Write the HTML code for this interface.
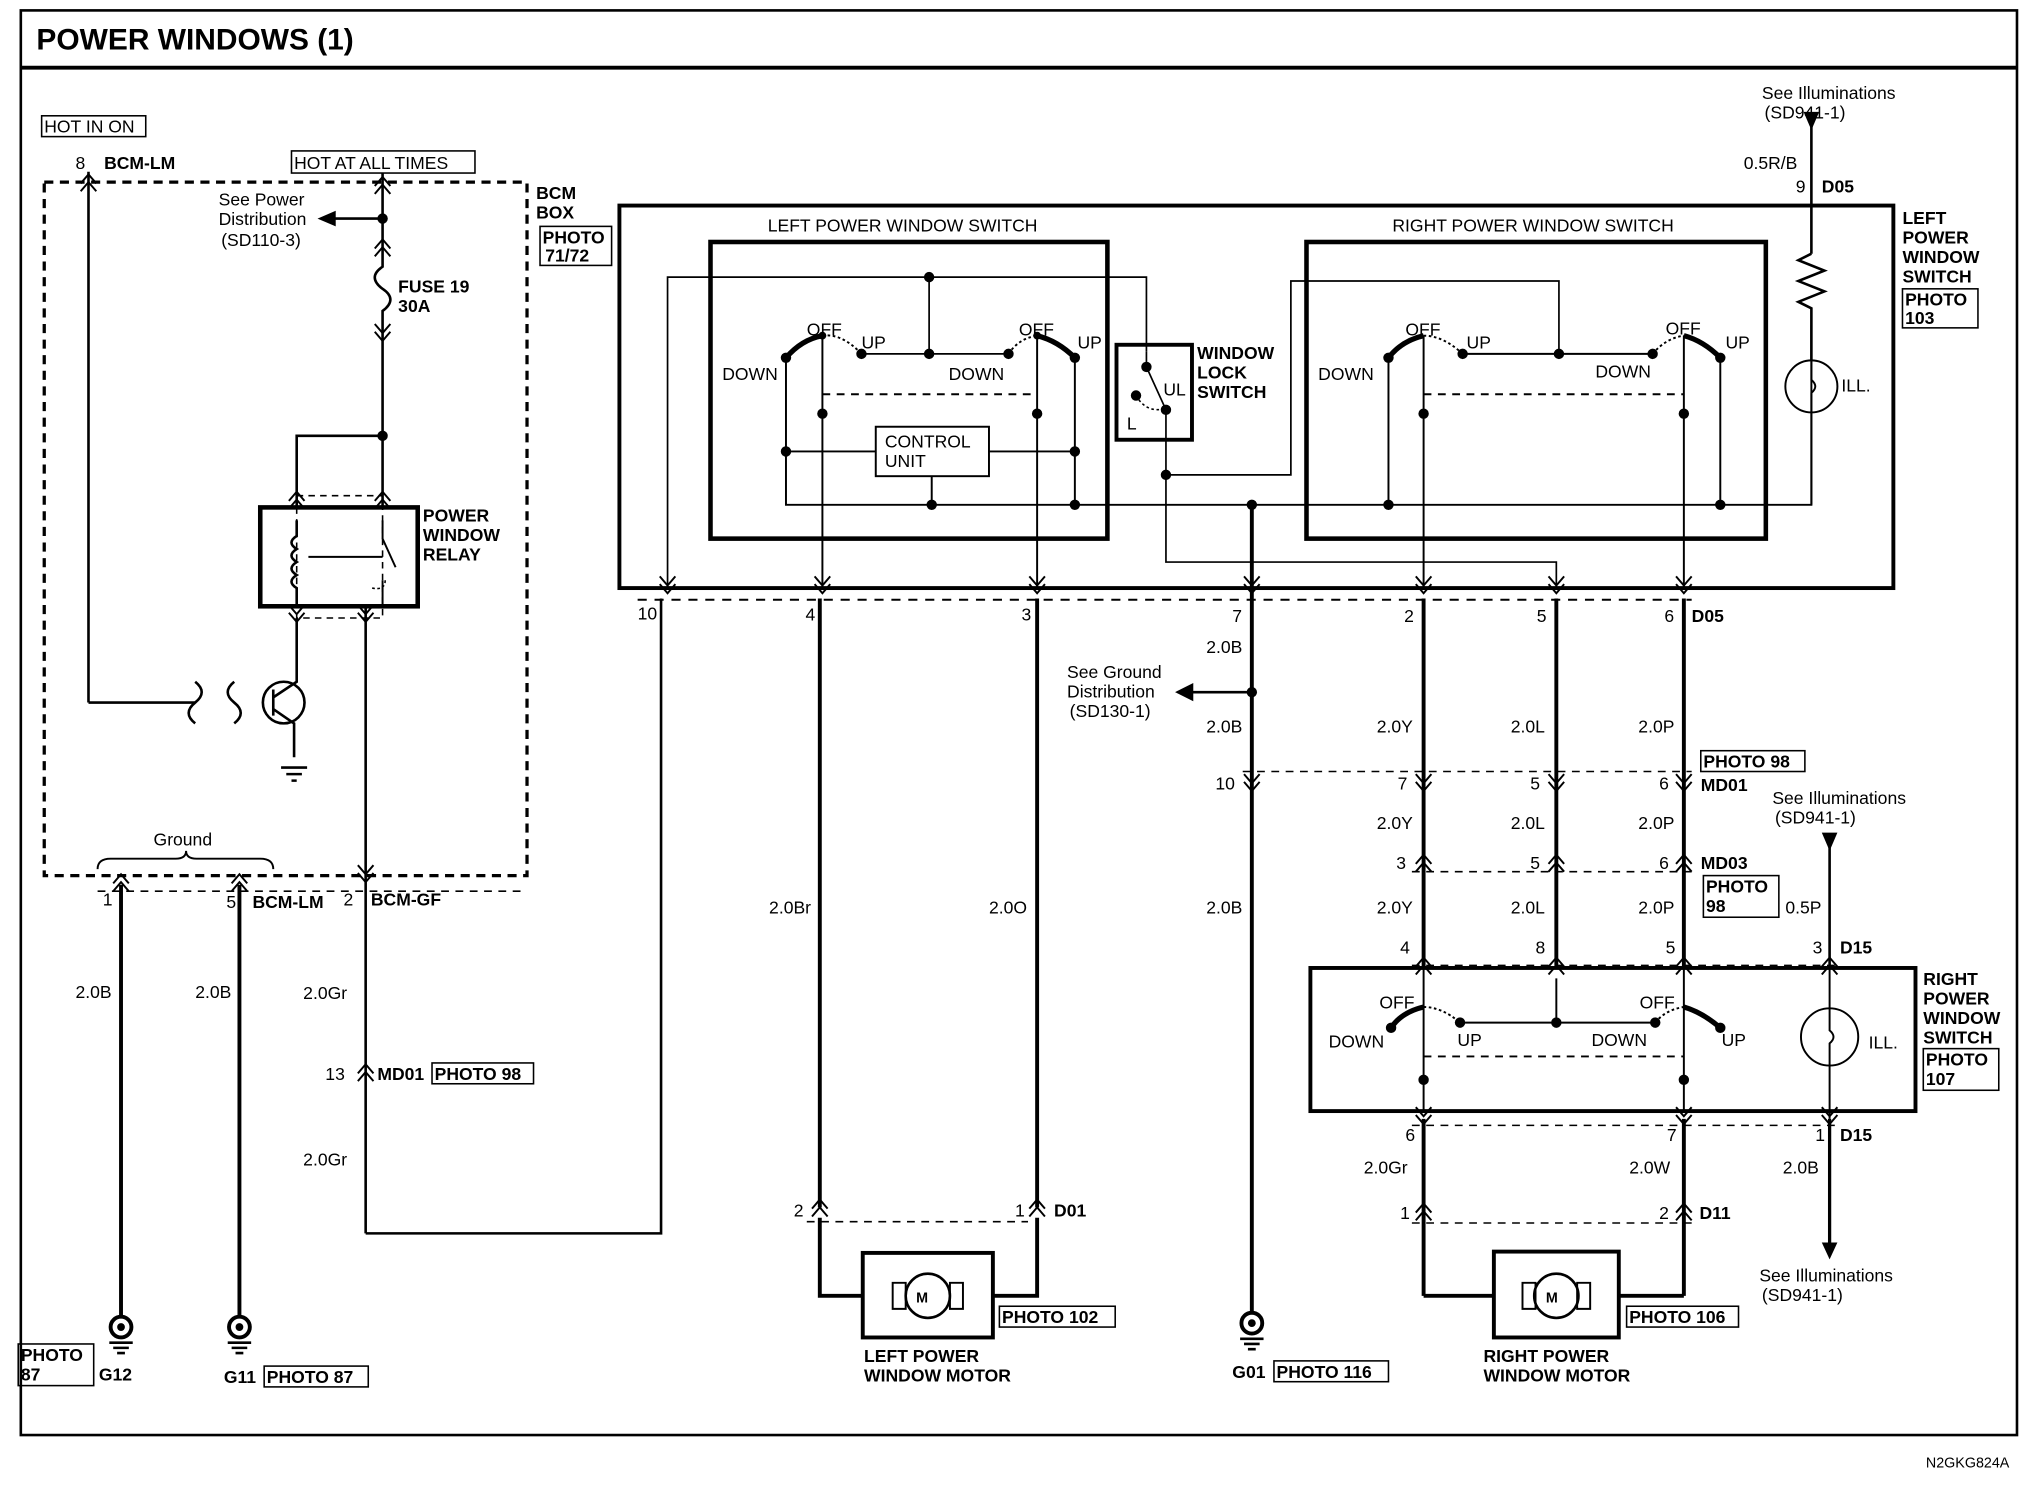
<!DOCTYPE html>
<html><head><meta charset="utf-8"><style>
html,body{margin:0;padding:0;background:#fff;}
svg{display:block}
text{font-family:"Liberation Sans",Arial,sans-serif;font-size:13.5px;fill:#000}
.b{font-weight:bold}
</style></head><body>
<svg width="2030" height="1504" viewBox="0 0 1560 1156" preserveAspectRatio="none" xmlns="http://www.w3.org/2000/svg">
<defs>
<g id="cu"><path d="M-6,7 L0,0 L6,7 M-6,13 L0,6 L6,13" fill="none" stroke="#000" stroke-width="1.5"/></g>
<g id="cd"><path d="M-6,-7 L0,0 L6,-7 M-6,-13 L0,-6 L6,-13" fill="none" stroke="#000" stroke-width="1.5"/></g>
<g id="gnd"><circle cx="0" cy="0" r="8" fill="none" stroke="#000" stroke-width="3"/><circle r="3"/><path d="M-9,12 H9 M-6,16 H6 M-3,20 H3" stroke="#000" stroke-width="2"/></g>
</defs>
<g fill="none" stroke="#000">
<!-- frame -->
<rect x="16" y="8" width="1534" height="1095" stroke-width="2"/>
<line x1="16" y1="52" x2="1550" y2="52" stroke-width="3"/>
<!-- BCM dashed box -->
<rect x="34" y="140" width="371" height="533" stroke-width="2.5" stroke-dasharray="7,5"/>
<!-- HOT IN ON -->
<rect x="32" y="89" width="80" height="16" stroke-width="1.2"/>
<rect x="224" y="116" width="141" height="17" stroke-width="1.2"/>
<line x1="68" y1="132" x2="68" y2="540" stroke-width="2"/>
<line x1="68" y1="540" x2="150" y2="540" stroke-width="2"/>
<path d="M150,524 q10,8 0,16 q-10,8 0,16 M180,524 q-10,8 0,16 q10,8 0,16" stroke-width="2"/>
<circle cx="218" cy="540" r="16" stroke-width="2"/>
<path d="M210,530 V550 M210,536 L228,524 V475 M210,545 L226,556 V582" stroke-width="2"/>
<path d="M216,590 H236 M220,595 H232 M224,600 H228" stroke-width="2"/>
<!-- fuse line -->
<line x1="294" y1="133" x2="294" y2="190" stroke-width="2"/>
<line x1="252" y1="168" x2="294" y2="168" stroke-width="2"/>
<path d="M294,190 V205 q-12,8 0,17 q12,8 0,17 V255" stroke-width="2"/>
<line x1="294" y1="255" x2="294" y2="390" stroke-width="2"/>
<path d="M228,390 V335 H294" stroke-width="2"/>
<!-- relay -->
<rect x="200" y="390" width="121" height="76" stroke-width="3.5"/>
<rect x="228" y="381" width="66" height="94" stroke-width="1.2" stroke-dasharray="5,4"/>
<path d="M228,400 V412 q-8,5 0,10 q-8,5 0,10 q-8,5 0,10 q-8,5 0,10 V466" stroke-width="2"/>
<path d="M294,400 V414 L304,436 M294,446 V466 M237,428 H294" stroke-width="1.5"/>
<path d="M296,446 q0,8 -10,6" stroke-width="1.2" stroke-dasharray="2,2"/>
<line x1="281" y1="466" x2="281" y2="948" stroke-width="2"/>
<path d="M281,948 H508 V460" stroke-width="2"/>
<!-- ground brace -->
<path d="M75,668 q0,-8 10,-8 H135 q8,0 8,-6 q0,6 8,6 H200 q10,0 10,8" stroke-width="1.5"/>
<line x1="75" y1="685" x2="400" y2="685" stroke-width="1.2" stroke-dasharray="6,5"/>
<line x1="93" y1="680" x2="93" y2="1012" stroke-width="3"/>
<line x1="184" y1="680" x2="184" y2="1012" stroke-width="3"/>
<!-- big switch box -->
<rect x="476" y="158" width="979" height="294" stroke-width="3"/>
<rect x="546" y="186" width="305" height="228" stroke-width="3.5"/>
<rect x="1004" y="186" width="353" height="228" stroke-width="3.5"/>
<rect x="858" y="265" width="58" height="73" stroke-width="3"/>
<line x1="490" y1="461" x2="1300" y2="461" stroke-width="1.5" stroke-dasharray="7,6"/>
<!-- left switch internal -->
<path d="M513,452 V213 H881 V270" stroke-width="1.3"/>
<path d="M714,213 V272 M662,272 H775" stroke-width="1.3"/>
<path d="M604,275 q12,-14 28,-17 M797,258 q16,4 29,17" stroke-width="4"/>
<path d="M632,258 q15,-2 30,14 M775,272 q8,-12 22,-14" stroke-width="1.5" stroke-dasharray="2,2"/>
<path d="M604,275 V388 H1392 V250 M826,275 V388" stroke-width="1.5"/>
<path d="M632,258 V452 M797,258 V452" stroke-width="1.5"/>
<line x1="632" y1="303" x2="797" y2="303" stroke-width="1.5" stroke-dasharray="6,5"/>
<rect x="673" y="328" width="87" height="38" stroke-width="1.5"/>
<path d="M604,347 H673 M760,347 H826 M716,366 V388" stroke-width="1.5"/>
<!-- lock switch -->
<path d="M881,270 V282 L896,315 V432 H1196 V452" stroke-width="1.3"/>
<path d="M873,304 q8,14 23,10" stroke-width="1.2" stroke-dasharray="2,2"/>
<path d="M896,365 H992 V216 H1198 V272" stroke-width="1.3"/>
<line x1="962" y1="388" x2="962" y2="1010" stroke-width="3"/>
<line x1="905" y1="532" x2="962" y2="532" stroke-width="2"/>
<!-- right switch internal -->
<path d="M1067,275 q10,-13 27,-17 M1294,258 q15,4 28,17" stroke-width="4"/>
<path d="M1094,258 q15,0 30,14 M1270,272 q10,-12 24,-14" stroke-width="1.5" stroke-dasharray="2,2"/>
<path d="M1124,272 H1270 M1067,275 V388 M1322,275 V388" stroke-width="1.5"/>
<path d="M1094,258 V452 M1294,258 V452" stroke-width="1.5"/>
<line x1="1094" y1="303" x2="1294" y2="303" stroke-width="1.5" stroke-dasharray="6,5"/>
<!-- illumination left -->
<line x1="1392" y1="95" x2="1392" y2="195" stroke-width="2"/>
<path d="M1392,195 l-10,5 l20,8 l-20,8 l20,8 l-20,8 l10,5 V277" stroke-width="2"/>
<circle cx="1392" cy="297" r="20" stroke-width="1.5"/>
<path d="M1392,277 V292 q6,5 0,10 V317 V388" stroke-width="1.5"/>
<!-- wires to motor left -->
<line x1="630" y1="460" x2="630" y2="928" stroke-width="3"/>
<line x1="797" y1="460" x2="797" y2="928" stroke-width="3"/>
<line x1="620" y1="939" x2="790" y2="939" stroke-width="1.2" stroke-dasharray="6,5"/>
<path d="M630,936 V996 H663 M797,936 V996 H763" stroke-width="3"/>
<rect x="663" y="963" width="100" height="65" stroke-width="3"/>
<circle cx="713" cy="996" r="17" stroke-width="2"/>
<path d="M686,986 h10 v20 h-10 z M730,986 h10 v20 h-10 z" stroke-width="1.5"/>
<!-- right wires -->
<line x1="1094" y1="460" x2="1094" y2="744" stroke-width="3"/>
<line x1="1196" y1="460" x2="1196" y2="744" stroke-width="3"/>
<line x1="1294" y1="460" x2="1294" y2="744" stroke-width="3"/>
<line x1="955" y1="593" x2="1300" y2="593" stroke-width="1.2" stroke-dasharray="6,5"/>
<line x1="1085" y1="670" x2="1300" y2="670" stroke-width="1.2" stroke-dasharray="6,5"/>
<line x1="1085" y1="742" x2="1410" y2="742" stroke-width="1.2" stroke-dasharray="6,5"/>
<rect x="1007" y="744" width="465" height="110" stroke-width="3"/>
<path d="M1069,790 q8,-12 25,-16 M1294,774 q14,4 28,16" stroke-width="4"/>
<path d="M1094,774 q14,0 28,12 M1272,786 q8,-10 22,-12" stroke-width="1.5" stroke-dasharray="2,2"/>
<path d="M1122,786 H1272 M1196,752 V786" stroke-width="1.5"/>
<path d="M1094,744 V854 M1294,744 V854" stroke-width="1.5"/>
<line x1="1094" y1="812" x2="1294" y2="812" stroke-width="1.5" stroke-dasharray="6,5"/>
<line x1="1094" y1="860" x2="1094" y2="996" stroke-width="3"/>
<line x1="1294" y1="860" x2="1294" y2="996" stroke-width="3"/>
<line x1="1085" y1="865" x2="1410" y2="865" stroke-width="1.2" stroke-dasharray="6,5"/>
<line x1="1085" y1="940" x2="1300" y2="940" stroke-width="1.2" stroke-dasharray="6,5"/>
<path d="M1094,996 H1148 M1294,996 H1244" stroke-width="3"/>
<rect x="1148" y="962" width="96" height="66" stroke-width="3"/>
<circle cx="1196" cy="996" r="17" stroke-width="2"/>
<path d="M1170,986 h10 v20 h-10 z M1212,986 h10 v20 h-10 z" stroke-width="1.5"/>
<!-- illumination right -->
<line x1="1406" y1="650" x2="1406" y2="744" stroke-width="2"/>
<circle cx="1406" cy="797" r="22" stroke-width="1.5"/>
<path d="M1406,744 V792 q6,5 0,10 V860" stroke-width="1.5"/>
<line x1="1406" y1="860" x2="1406" y2="958" stroke-width="2.5"/>
<!-- photo boxes -->
<rect x="415" y="174" width="55" height="30" stroke-width="1.2"/>
<rect x="1462" y="222" width="58" height="30" stroke-width="1.2"/>
<rect x="332" y="817" width="78" height="16" stroke-width="1.2"/>
<rect x="14" y="1033" width="58" height="32" stroke-width="1.2"/>
<rect x="203" y="1050" width="80" height="16" stroke-width="1.2"/>
<rect x="768" y="1004" width="89" height="16" stroke-width="1.2"/>
<rect x="979" y="1046" width="88" height="16" stroke-width="1.2"/>
<rect x="1250" y="1004" width="86" height="16" stroke-width="1.2"/>
<rect x="1307" y="577" width="80" height="16" stroke-width="1.2"/>
<rect x="1309" y="673" width="58" height="32" stroke-width="1.2"/>
<rect x="1478" y="806" width="58" height="32" stroke-width="1.2"/>
</g>
<!-- arrowheads -->
<path d="M244,168 L258,162 L258,174 Z"/>
<path d="M903,532 L917,525 L917,539 Z"/>
<path d="M1386,86 L1398,86 L1392,100 Z"/>
<path d="M1400,640 L1412,640 L1406,654 Z"/>
<path d="M1400,955 L1412,955 L1406,968 Z"/>
<!-- dots -->
<g>
<circle cx="294" cy="168" r="4"/><circle cx="294" cy="335" r="4"/>
<circle cx="714" cy="213" r="4"/><circle cx="714" cy="272" r="4"/><circle cx="662" cy="272" r="4"/><circle cx="775" cy="272" r="4"/>
<circle cx="604" cy="275" r="4"/><circle cx="826" cy="275" r="4"/><circle cx="632" cy="258" r="3"/><circle cx="797" cy="258" r="3"/>
<circle cx="632" cy="318" r="4"/><circle cx="797" cy="318" r="4"/>
<circle cx="604" cy="347" r="4"/><circle cx="826" cy="347" r="4"/><circle cx="716" cy="388" r="4"/><circle cx="826" cy="388" r="4"/>
<circle cx="881" cy="282" r="4"/><circle cx="896" cy="315" r="4"/><circle cx="873" cy="304" r="4"/><circle cx="896" cy="365" r="4"/>
<circle cx="962" cy="388" r="4"/><circle cx="1067" cy="388" r="4"/><circle cx="1322" cy="388" r="4"/>
<circle cx="1198" cy="272" r="4"/><circle cx="1124" cy="272" r="4"/><circle cx="1270" cy="272" r="4"/><circle cx="1067" cy="275" r="4"/><circle cx="1322" cy="275" r="4"/>
<circle cx="1094" cy="318" r="4"/><circle cx="1294" cy="318" r="4"/>
<circle cx="962" cy="532" r="4"/>
<circle cx="1122" cy="786" r="4"/><circle cx="1272" cy="786" r="4"/><circle cx="1196" cy="786" r="4"/><circle cx="1069" cy="790" r="4"/><circle cx="1322" cy="790" r="4"/>
<circle cx="1094" cy="830" r="4"/><circle cx="1294" cy="830" r="4"/>
</g>
<!-- connectors -->
<use href="#cu" x="68" y="134"/>
<use href="#cu" x="294" y="136"/><use href="#cu" x="294" y="184"/>
<use href="#cd" x="294" y="262"/>
<use href="#cu" x="228" y="378"/><use href="#cu" x="294" y="378"/>
<use href="#cd" x="228" y="478"/><use href="#cd" x="281" y="478"/>
<use href="#cu" x="93" y="672"/><use href="#cu" x="184" y="672"/><use href="#cd" x="281" y="678"/>
<use href="#cu" x="281" y="818"/>
<use href="#cd" x="513" y="456"/><use href="#cd" x="632" y="456"/><use href="#cd" x="797" y="456"/><use href="#cd" x="962" y="456"/>
<use href="#cd" x="1094" y="456"/><use href="#cd" x="1196" y="456"/><use href="#cd" x="1294" y="456"/>
<use href="#cd" x="962" y="608"/><use href="#cd" x="1094" y="608"/><use href="#cd" x="1196" y="608"/><use href="#cd" x="1294" y="608"/>
<use href="#cu" x="1094" y="657"/><use href="#cu" x="1196" y="657"/><use href="#cu" x="1294" y="657"/>
<use href="#cu" x="1094" y="736"/><use href="#cu" x="1196" y="736"/><use href="#cu" x="1294" y="736"/><use href="#cu" x="1406" y="736"/>
<use href="#cd" x="1094" y="864"/><use href="#cd" x="1294" y="864"/><use href="#cd" x="1406" y="864"/>
<use href="#cu" x="630" y="922"/><use href="#cu" x="797" y="922"/>
<use href="#cu" x="1094" y="925"/><use href="#cu" x="1294" y="925"/>
<use href="#gnd" x="93" y="1020"/><use href="#gnd" x="184" y="1020"/><use href="#gnd" x="962" y="1017"/>
<!-- text -->
<text x="28" y="38" class="b" style="font-size:23px">POWER WINDOWS (1)</text>
<text x="1480" y="1128" style="font-size:11px">N2GKG824A</text>
<text x="34" y="102">HOT IN ON</text>
<text x="226" y="130">HOT AT ALL TIMES</text>
<text x="58" y="130">8</text><text x="80" y="130" class="b">BCM-LM</text>
<text x="168" y="158">See Power</text><text x="168" y="173">Distribution</text><text x="170" y="189">(SD110-3)</text>
<text x="306" y="225" class="b">FUSE 19</text><text x="306" y="240" class="b">30A</text>
<text x="325" y="401" class="b">POWER</text><text x="325" y="416" class="b">WINDOW</text><text x="325" y="431" class="b">RELAY</text>
<text x="412" y="153" class="b">BCM</text><text x="412" y="168" class="b">BOX</text>
<text x="417" y="187" class="b">PHOTO</text><text x="419" y="201" class="b">71/72</text>
<text x="118" y="650">Ground</text>
<text x="79" y="696">1</text><text x="174" y="698">5</text><text x="194" y="698" class="b">BCM-LM</text>
<text x="264" y="696">2</text><text x="285" y="696" class="b">BCM-GF</text>
<text x="58" y="767">2.0B</text><text x="150" y="767">2.0B</text><text x="233" y="768">2.0Gr</text>
<text x="250" y="830">13</text><text x="290" y="830" class="b">MD01</text><text x="334" y="830" class="b">PHOTO 98</text>
<text x="233" y="896">2.0Gr</text>
<text x="16" y="1046" class="b">PHOTO</text><text x="16" y="1061" class="b">87</text><text x="76" y="1061" class="b">G12</text>
<text x="172" y="1063" class="b">G11</text><text x="205" y="1063" class="b">PHOTO 87</text>
<text x="590" y="178">LEFT POWER WINDOW SWITCH</text>
<text x="1070" y="178">RIGHT POWER WINDOW SWITCH</text>
<text x="555" y="292">DOWN</text><text x="620" y="258">OFF</text><text x="662" y="268">UP</text>
<text x="729" y="292">DOWN</text><text x="783" y="258">OFF</text><text x="828" y="268">UP</text>
<text x="680" y="344">CONTROL</text><text x="680" y="359">UNIT</text>
<text x="920" y="276" class="b">WINDOW</text><text x="920" y="291" class="b">LOCK</text><text x="920" y="306" class="b">SWITCH</text>
<text x="894" y="304">UL</text><text x="866" y="330">L</text>
<text x="1013" y="292">DOWN</text><text x="1080" y="258">OFF</text><text x="1127" y="268">UP</text>
<text x="1226" y="290">DOWN</text><text x="1280" y="257">OFF</text><text x="1326" y="268">UP</text>
<text x="1415" y="301">ILL.</text>
<text x="1354" y="76">See Illuminations</text><text x="1356" y="91">(SD941-1)</text>
<text x="1340" y="130">0.5R/B</text><text x="1380" y="148">9</text><text x="1400" y="148" class="b">D05</text>
<text x="1462" y="172" class="b">LEFT</text><text x="1462" y="187" class="b">POWER</text><text x="1462" y="202" class="b">WINDOW</text><text x="1462" y="217" class="b">SWITCH</text>
<text x="1464" y="235" class="b">PHOTO</text><text x="1464" y="249" class="b">103</text>
<text x="490" y="476">10</text><text x="619" y="477">4</text><text x="785" y="477">3</text><text x="947" y="478">7</text>
<text x="1079" y="478">2</text><text x="1181" y="478">5</text><text x="1279" y="478">6</text><text x="1300" y="478" class="b">D05</text>
<text x="927" y="502">2.0B</text>
<text x="820" y="521">See Ground</text><text x="820" y="536">Distribution</text><text x="822" y="551">(SD130-1)</text>
<text x="927" y="563">2.0B</text>
<text x="1058" y="563">2.0Y</text><text x="1161" y="563">2.0L</text><text x="1259" y="563">2.0P</text>
<text x="1309" y="590" class="b">PHOTO 98</text>
<text x="934" y="607">10</text><text x="1074" y="607">7</text><text x="1176" y="607">5</text><text x="1275" y="607">6</text><text x="1307" y="608" class="b">MD01</text>
<text x="1362" y="618">See Illuminations</text><text x="1364" y="633">(SD941-1)</text>
<text x="1058" y="637">2.0Y</text><text x="1161" y="637">2.0L</text><text x="1259" y="637">2.0P</text>
<text x="1073" y="668">3</text><text x="1176" y="668">5</text><text x="1275" y="668">6</text><text x="1307" y="668" class="b">MD03</text>
<text x="1311" y="686" class="b">PHOTO</text><text x="1311" y="701" class="b">98</text>
<text x="591" y="702">2.0Br</text><text x="760" y="702">2.0O</text><text x="927" y="702">2.0B</text>
<text x="1058" y="702">2.0Y</text><text x="1161" y="702">2.0L</text><text x="1259" y="702">2.0P</text><text x="1372" y="702">0.5P</text>
<text x="1076" y="733">4</text><text x="1180" y="733">8</text><text x="1280" y="733">5</text><text x="1393" y="733">3</text><text x="1414" y="733" class="b">D15</text>
<text x="1060" y="775">OFF</text><text x="1021" y="805">DOWN</text><text x="1120" y="804">UP</text>
<text x="1260" y="775">OFF</text><text x="1223" y="804">DOWN</text><text x="1323" y="804">UP</text>
<text x="1436" y="806">ILL.</text>
<text x="1478" y="757" class="b">RIGHT</text><text x="1478" y="772" class="b">POWER</text><text x="1478" y="787" class="b">WINDOW</text><text x="1478" y="802" class="b">SWITCH</text>
<text x="1480" y="819" class="b">PHOTO</text><text x="1480" y="834" class="b">107</text>
<text x="1080" y="877">6</text><text x="1281" y="877">7</text><text x="1395" y="877">1</text><text x="1414" y="877" class="b">D15</text>
<text x="1048" y="902">2.0Gr</text><text x="1252" y="902">2.0W</text><text x="1370" y="902">2.0B</text>
<text x="610" y="935">2</text><text x="780" y="935">1</text><text x="810" y="935" class="b">D01</text>
<text x="1076" y="937">1</text><text x="1275" y="937">2</text><text x="1306" y="937" class="b">D11</text>
<text x="1352" y="985">See Illuminations</text><text x="1354" y="1000">(SD941-1)</text>
<text x="704" y="1001" class="b" style="font-size:11px">M</text><text x="1188" y="1001" class="b" style="font-size:11px">M</text>
<text x="770" y="1017" class="b">PHOTO 102</text><text x="1252" y="1017" class="b">PHOTO 106</text>
<text x="664" y="1047" class="b">LEFT POWER</text><text x="664" y="1062" class="b">WINDOW MOTOR</text>
<text x="1140" y="1047" class="b">RIGHT POWER</text><text x="1140" y="1062" class="b">WINDOW MOTOR</text>
<text x="947" y="1059" class="b">G01</text><text x="981" y="1059" class="b">PHOTO 116</text>
</svg>
</body></html>
